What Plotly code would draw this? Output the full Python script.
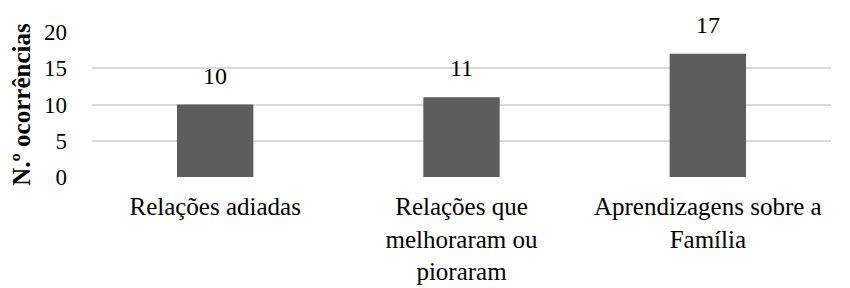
import plotly.graph_objects as go

categories = ["Relações adiadas", "Relações que<br>melhoraram ou<br>pioraram", "Aprendizagens sobre a<br>Família"]
values = [10, 11, 17]
y_ticks = [0, 5, 10, 15, 20]
y_title = "N.º ocorrências"

FONT = "Liberation Serif"

fig = go.Figure()
fig.add_trace(go.Bar(
    x=categories,
    y=values,
    marker=dict(color="#5d5d5d", line=dict(width=0)),
    width=0.31,
    hoverinfo="skip",
))

for c, v in zip(categories, values):
    fig.add_annotation(
        x=c, y=v, text=str(v), showarrow=False,
        yanchor="bottom", yshift=14,
        font=dict(family=FONT, size=24, color="#000000"),
    )

# page body has an 8px default margin, so the figure is sized/offset accordingly
fig.update_layout(
    width=842, height=280,
    margin=dict(l=84, r=19, t=24, b=111),
    paper_bgcolor="white",
    plot_bgcolor="white",
    showlegend=False,
    font=dict(family=FONT, size=22, color="#000000"),
)

fig.update_xaxes(
    automargin=False,
    showgrid=False,
    showline=False,
    zeroline=False,
    ticks="",
    tickfont=dict(family=FONT, size=25, color="#000000"),
    ticklabelstandoff=12,
)

fig.update_yaxes(
    automargin=False,
    range=[0, 20],
    tickvals=y_ticks,
    showgrid=True,
    gridcolor="#d9d9d9",
    gridwidth=1.5,
    zeroline=False,
    showline=False,
    ticks="",
    ticklabelstandoff=24,
    tickfont=dict(family=FONT, size=23, color="#000000"),
    title=dict(text="<b>" + y_title + "</b>", font=dict(family=FONT, size=25, color="#000000"), standoff=8),
)

fig.write_html("out.html")
